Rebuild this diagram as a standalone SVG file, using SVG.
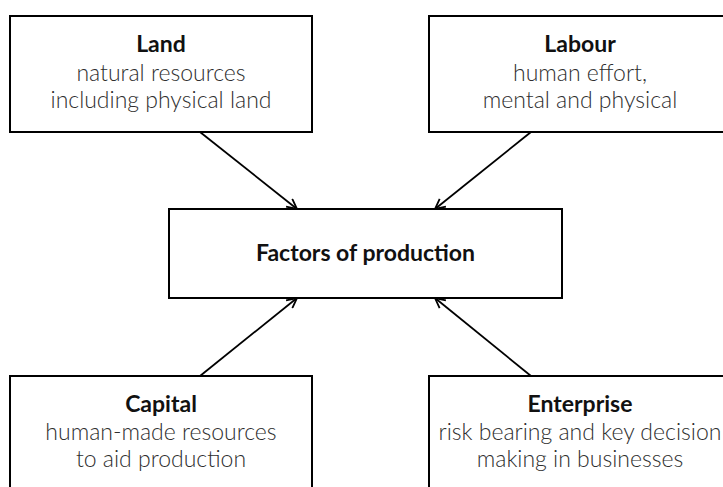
<svg xmlns="http://www.w3.org/2000/svg" width="723" height="487" viewBox="0 0 723 487">
  <defs>
    <style>
      .box { fill: #ffffff; stroke: #000000; stroke-width: 2; }
      .title { font-family: Lato, "Liberation Sans", sans-serif; font-weight: 700; font-size: 23px; fill: #111111; text-anchor: middle; }
      .desc { font-family: Lato, "Liberation Sans", sans-serif; font-weight: 300; font-size: 23px; fill: #2e2e2e; text-anchor: middle; }
      .link { fill: none; stroke: #000000; stroke-width: 1.8; marker-end: url(#arrow); }
    </style>
    <marker id="arrow" viewBox="0 0 12 12" refX="11" refY="6" markerWidth="12" markerHeight="12" markerUnits="userSpaceOnUse" orient="auto">
      <path d="M1,1 L11,6 L1,11" fill="none" stroke="#000000" stroke-width="1.8"/>
    </marker>
  </defs>
  <rect width="723" height="487" fill="#ffffff"/>

  <g id="connectors">
    <line class="link" x1="200" y1="132" x2="297" y2="209"/>
    <line class="link" x1="531" y1="132" x2="435" y2="209"/>
    <line class="link" x1="200" y1="376" x2="297" y2="298"/>
    <line class="link" x1="531" y1="376" x2="435" y2="298"/>
  </g>

  <g id="land">
    <rect class="box" x="10" y="16" width="302" height="116"/>
    <text class="title" x="161" y="52">Land</text>
    <text class="desc" x="161" y="81">natural resources</text>
    <text class="desc" x="161" y="108">including physical land</text>
  </g>

  <g id="labour">
    <rect class="box" x="429" y="16" width="302" height="116"/>
    <text class="title" x="580" y="52">Labour</text>
    <text class="desc" x="580" y="81">human effort,</text>
    <text class="desc" x="580" y="108">mental and physical</text>
  </g>

  <g id="factors">
    <rect class="box" x="169" y="209" width="393" height="89"/>
    <text class="title" x="365.5" y="261">Factors of production</text>
  </g>

  <g id="capital">
    <rect class="box" x="10" y="376" width="302" height="130"/>
    <text class="title" x="161" y="412">Capital</text>
    <text class="desc" x="161" y="440">human-made resources</text>
    <text class="desc" x="161" y="467">to aid production</text>
  </g>

  <g id="enterprise">
    <rect class="box" x="429" y="376" width="302" height="130"/>
    <text class="title" x="580" y="412">Enterprise</text>
    <text class="desc" x="580" y="440">risk bearing and key decision</text>
    <text class="desc" x="580" y="467">making in businesses</text>
  </g>
</svg>
